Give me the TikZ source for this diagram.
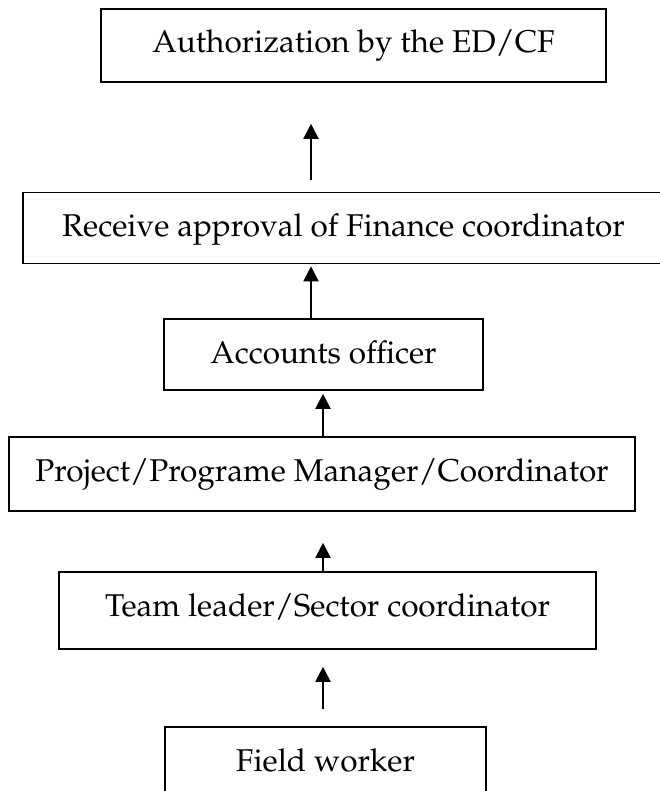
\documentclass[tikz,border=0pt]{standalone}
\usepackage[T1]{fontenc}
\usepackage{mathpazo}
\usepackage{tikz}
\usetikzlibrary{arrows.meta, calc}
\tikzstyle{kotak} = [draw, line width=1.6pt, inner xsep=0pt, inner ysep=0pt, text height=44pt, font=\fontsize{31.5}{36}\selectfont]
\tikzstyle{arrow} = [line width=2pt, -{Triangle[length=15pt,width=15pt]}]

\begin{document}
\begin{tikzpicture}[x=1pt, y=-1pt]
  \useasboundingbox (0,0) rectangle (660,791);

  % Kotak alur persetujuan
  \node[kotak, minimum width=505pt, text depth=29pt] (auth) at (353.5,45.5) {Authorization by the ED/CF};
  \node[kotak, minimum width=641pt, text depth=27pt] (rec) at (343.5,228) {Receive approval of Finance coordinator};
  \node[kotak, minimum width=319pt, text depth=27pt] (acc) at (323.5,354.5) {Accounts officer};
  \node[kotak, minimum width=626pt, text depth=30pt] (proj) at (322,474) {Project/Programe Manager/Coordinator};
  \node[kotak, minimum width=537pt, text depth=33pt] (team) at (327.5,610.5) {Team leader/Sector coordinator};
  \node[kotak, minimum width=321pt, text depth=30pt] (field) at (325.5,764) {Field worker};

  % Panah dari bawah ke atas
  \foreach \lo/\hi/\dx/\gs/\ge in {rec/auth/-32.5/12/41, acc/rec/-12.5/0/2, proj/acc/1/0/3, team/proj/-4.5/0/31, field/team/-2.5/17/17} {
    \draw[arrow, shorten <=\gs pt, shorten >=\ge pt] ($(\lo.north)+(\dx,0)$) -- ($(\lo.north |- \hi.south)+(\dx,0)$);
  }

\end{tikzpicture}
\end{document}
